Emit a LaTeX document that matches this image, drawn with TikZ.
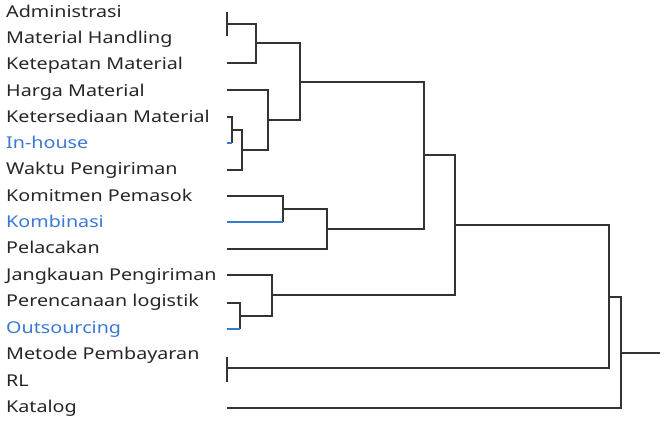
\documentclass[tikz,border=0pt]{standalone}
\usepackage{fontspec}
\setmainfont{Noto Sans}
\definecolor{lineclr}{HTML}{333333}
\definecolor{txtclr}{HTML}{262626}
\definecolor{blueclr}{HTML}{3A78D6}
\newcommand{\wtxt}[1]{\scalebox{1.21}[1]{#1}}
\begin{document}
\begin{tikzpicture}[x=1pt,y=-1pt,
  lbl/.style={anchor=base west,inner sep=0pt,font=\fontsize{16.3}{16.3}\selectfont,text=txtclr},
  bluelbl/.style={lbl,text=blueclr},
  br/.style={draw=lineclr,line width=1.4pt},
  bluebr/.style={draw=blueclr,line width=1.4pt}]
\useasboundingbox (0,0) rectangle (666,424);
% labels
\node[lbl] (t1) at (6,17.5) {\wtxt{Administrasi}};
\node[lbl] (t2) at (6,43.5) {\wtxt{Material Handling}};
\node[lbl] (t3) at (6,69.5) {\wtxt{Ketepatan Material}};
\node[lbl] (t4) at (6,96) {\wtxt{Harga Material}};
\node[lbl] (t5) at (6,122) {\wtxt{Ketersediaan Material}};
\node[bluelbl] (t6) at (6,148) {\wtxt{In-house}};
\node[lbl] (t7) at (6,174.5) {\wtxt{Waktu Pengiriman}};
\node[lbl] (t8) at (6,201) {\wtxt{Komitmen Pemasok}};
\node[bluelbl] (t9) at (6,227) {\wtxt{Kombinasi}};
\node[lbl] (t10) at (6,253.5) {\wtxt{Pelacakan}};
\node[lbl] (t11) at (6,280) {\wtxt{Jangkauan Pengiriman}};
\node[lbl] (t12) at (6,306.5) {\wtxt{Perencanaan logistik}};
\node[bluelbl] (t13) at (6,333) {\wtxt{Outsourcing}};
\node[lbl] (t14) at (6,359.5) {\wtxt{Metode Pembayaran}};
\node[lbl] (t15) at (6,386) {\wtxt{RL}};
\node[lbl] (t16) at (6,412.5) {\wtxt{Katalog}};
% leaf coordinates
\coordinate (l1) at (227,12);
\coordinate (l2) at (227,36);
\coordinate (l3) at (227,63);
\coordinate (l4) at (227,90);
\coordinate (l5) at (227,117);
\coordinate (l6) at (227,143);
\coordinate (l7) at (227,170);
\coordinate (l8) at (227,196);
\coordinate (l9) at (227,222);
\coordinate (l10) at (227,249);
\coordinate (l11) at (227,275);
\coordinate (l12) at (227,303);
\coordinate (l13) at (227,329);
\coordinate (l14) at (227,357);
\coordinate (l15) at (227,382);
\coordinate (l16) at (227,408);
% merge coordinates
\coordinate (m1) at (227,24);
\coordinate (m2) at (256,43);
\coordinate (m3) at (232,130);
\coordinate (m4) at (242,150);
\coordinate (m5) at (268,120);
\coordinate (m6) at (300,82);
\coordinate (m7) at (283,209);
\coordinate (m8) at (327,229);
\coordinate (m9) at (424,155);
\coordinate (m10) at (240,316);
\coordinate (m11) at (272,295);
\coordinate (m12) at (455,225);
\coordinate (m13) at (227,368);
\coordinate (m14) at (609,297);
\coordinate (m15) at (621,353);
\coordinate (root) at (660,353);
% brackets
\draw[br] (l1) -- (l2);
\draw[br] (m1) -| (m2) |- (l3);
\draw[br] (l5) -| (m3) |- (m3 |- l6);
\draw[bluebr] (l6) -- (m3 |- l6);
\draw[br] (m3) -| (m4) |- (l7);
\draw[br] (l4) -| (m5) |- (m4);
\draw[br] (m2) -| (m6) |- (m5);
\draw[br] (l8) -| (m7) |- (m7 |- l9);
\draw[bluebr] (l9) -- (m7 |- l9);
\draw[br] (m7) -| (m8) |- (l10);
\draw[br] (m6) -| (m9) |- (m8);
\draw[br] (l12) -| (m10) |- (m10 |- l13);
\draw[bluebr] (l13) -- (m10 |- l13);
\draw[br] (l11) -| (m11) |- (m10);
\draw[br] (m9) -| (m12) |- (m11);
\draw[br] (l14) -- (l15);
\draw[br] (m12) -| (m14) |- (m13);
\draw[br] (m14) -| (m15) |- (l16);
\draw[br] (m15) -- (root);
\end{tikzpicture}
\end{document}
